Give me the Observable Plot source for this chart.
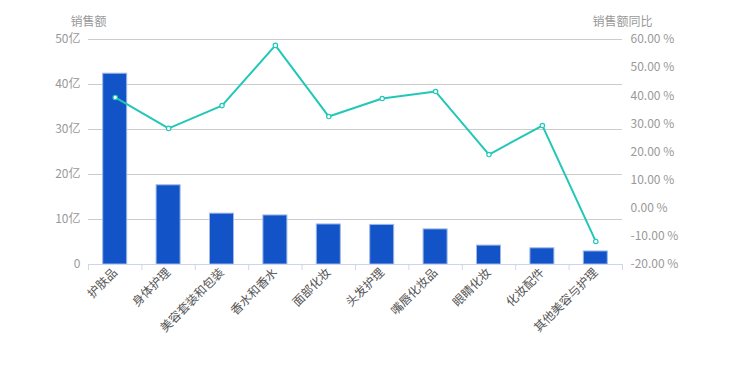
<!DOCTYPE html>
<html>
<head>
<meta charset="utf-8">
<script src="https://cdn.jsdelivr.net/npm/d3@7"></script>
<script src="https://cdn.jsdelivr.net/npm/@observablehq/plot@0.6"></script>
<style>
  html, body { margin: 0; padding: 0; background: #fff; }
  #chart { width: 756px; height: 378px; }
</style>
</head>
<body>
<div id="chart"></div>
<script>
const categories = ["护肤品", "身体护理", "美容套装和包装", "香水和香水", "面部化妆", "头发护理", "嘴唇化妆品", "眼睛化妆", "化妆配件", "其他美容与护理"];
const sales = [42.4, 17.6, 11.3, 10.9, 8.9, 8.8, 7.8, 4.2, 3.6, 2.9]; // 亿
const growth = [39.4, 28.4, 36.5, 57.9, 32.6, 39.0, 41.5, 19.1, 29.4, -11.8]; // %
const salesTicks = [0, 10, 20, 30, 40, 50];
const growthTicks = [-20, -10, 0, 10, 20, 30, 40, 50, 60];
const growthDomain = [-20, 60];
const salesDomain = [0, 50];

const toLeft = p => (p - growthDomain[0]) / (growthDomain[1] - growthDomain[0]) * (salesDomain[1] - salesDomain[0]) + salesDomain[0];
const fromLeft = v => (v - salesDomain[0]) / (salesDomain[1] - salesDomain[0]) * (growthDomain[1] - growthDomain[0]) + growthDomain[0];

const rows = categories.map((c, i) => ({cat: c, sales: sales[i], growth: growth[i], gy: toLeft(growth[i])}));

const W = 756, H = 378, ML = 88, MR = 134, MT = 39, MB = 114;
const band = (W - ML - MR) / categories.length;

const font = "'Noto Sans CJK SC', 'Noto Sans', sans-serif";

const chart = Plot.plot({
  width: W,
  height: H,
  marginLeft: ML,
  marginRight: MR,
  marginTop: MT,
  marginBottom: MB,
  style: {fontFamily: font, fontSize: "12px", background: "#fff", overflow: "visible"},
  x: {type: "band", domain: categories, padding: 0, round: false},
  y: {domain: salesDomain},
  marks: [
    Plot.gridY(salesTicks.filter(d => d > 0), {stroke: "#cccccc", strokeOpacity: 1}),
    Plot.barY(rows, {x: "cat", y: "sales", fill: "#1253c8", stroke: "#9fb8e6", strokeWidth: 1, insetLeft: (band - 24) / 2, insetRight: (band - 24) / 2}),
    Plot.ruleY([0], {stroke: "#ccd6eb"}),
    Plot.ruleX(categories, {x: d => d, dx: -band / 2, y1: 0, y2: 0, insetBottom: -6, stroke: "#ccd6eb"}),
    Plot.ruleX([categories[categories.length - 1]], {x: d => d, dx: band / 2, y1: 0, y2: 0, insetBottom: -6, stroke: "#ccd6eb"}),
    Plot.line(rows, {x: "cat", y: "gy", stroke: "#22c7b8", strokeWidth: 2}),
    Plot.dot(rows, {x: "cat", y: "gy", r: 2.2, fill: "#fff", stroke: "#22c7b8", strokeWidth: 1.2}),
    Plot.axisY(salesTicks, {anchor: "left", tickSize: 0, tickPadding: 8, tickFormat: d => d === 0 ? "0" : d + "亿", fill: "#999", fontSize: 12, label: null}),
    Plot.axisY(growthTicks.map(toLeft), {anchor: "right", tickSize: 0, tickPadding: 8, tickFormat: d => fromLeft(d).toFixed(2) + " %", fill: "#999", fontSize: 12, label: null}),
    Plot.axisX({tickSize: 0, tickPadding: 6, tickRotate: -45, fill: "#555", fontSize: 12, label: null}),
    Plot.text(["销售额"], {frameAnchor: "top-left", dy: -22, textAnchor: "middle", fill: "#999", fontSize: 12}),
    Plot.text(["销售额同比"], {frameAnchor: "top-right", dy: -22, textAnchor: "middle", fill: "#999", fontSize: 12})
  ]
});
document.getElementById("chart").appendChild(chart);
</script>
</body>
</html>
